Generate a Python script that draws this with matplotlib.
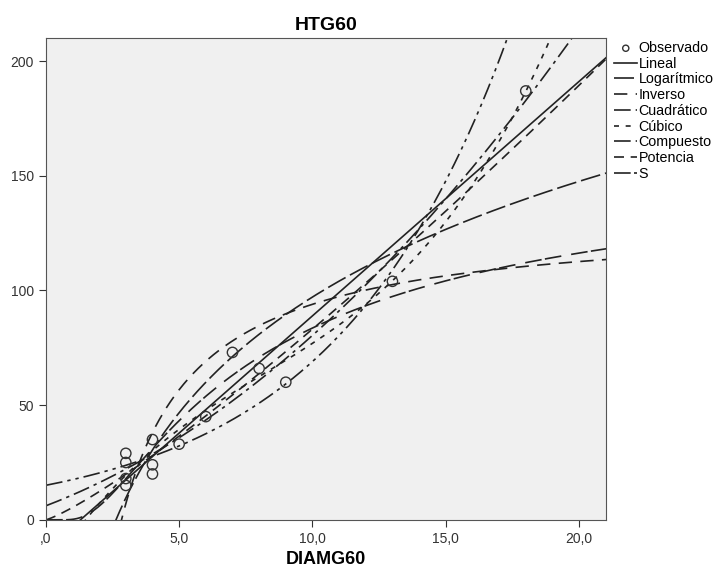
import numpy as np
import matplotlib.pyplot as plt

plt.rcParams['font.family'] = ['Liberation Sans', 'DejaVu Sans']

diam = np.array([3, 3, 3, 3, 4, 4, 4, 5, 6, 7, 8, 9, 13, 18], dtype=float)
htg = np.array([29, 25, 18, 15, 35, 24, 20, 33, 45, 73, 66, 60, 104, 187], dtype=float)

model_names = ['Lineal', 'Logarítmico', 'Inverso', 'Cuadrático', 'Cúbico',
               'Compuesto', 'Potencia', 'S']
x_ticks = [0, 5, 10, 15, 20]
x_tick_labels = [',0', '5,0', '10,0', '15,0', '20,0']
y_ticks = [0, 50, 100, 150, 200]

# --- fitted models (same set as the SPSS curve estimation) ---
lin = np.polyfit(diam, htg, 1)
log_c = np.polyfit(np.log(diam), htg, 1)
inv_c = np.polyfit(1 / diam, htg, 1)
quad = np.polyfit(diam, htg, 2)
cub = np.polyfit(diam, htg, 3)
comp = np.polyfit(diam, np.log(htg), 1)
powr = np.polyfit(np.log(diam), np.log(htg), 1)
s_c = np.polyfit(1 / diam, np.log(htg), 1)

xs = np.linspace(0.01, 21.5, 600)
curves = {
    'Lineal': np.polyval(lin, xs),
    'Logarítmico': np.polyval(log_c, np.log(xs)),
    'Inverso': np.polyval(inv_c, 1 / xs),
    'Cuadrático': np.polyval(quad, xs),
    'Cúbico': np.polyval(cub, xs),
    'Compuesto': np.exp(np.polyval(comp, xs)),
    'Potencia': np.exp(np.polyval(powr, np.log(xs))),
    'S': np.exp(np.polyval(s_c, 1 / xs)),
}
styles = {
    'Lineal': '-',
    'Logarítmico': (0, (12, 3)),
    'Inverso': (0, (8, 5)),
    'Cuadrático': (0, (10, 3, 2, 3)),
    'Cúbico': (0, (3, 4)),
    'Compuesto': (0, (10, 3, 2, 3, 2, 3)),
    'Potencia': (0, (6, 4)),
    'S': (0, (10, 2, 10, 6)),
}

fig = plt.figure(figsize=(7.16, 5.7), dpi=100)
ax = fig.add_axes([0.064, 0.088, 0.782, 0.845])
ax.set_facecolor('#f0f0f0')

ax.scatter(diam, htg, s=55, facecolors='none', edgecolors='#333333',
           linewidths=1.0, label='Observado', zorder=3)
for name in model_names:
    ax.plot(xs, curves[name], color='#222222', lw=1.2, linestyle=styles[name],
            label=name)

ax.set_xlim(0, 21)
ax.set_ylim(0, 210)
ax.set_xticks(x_ticks)
ax.set_xticklabels(x_tick_labels)
ax.set_yticks(y_ticks)
ax.tick_params(direction='out', length=5, labelsize=10, colors='#333333')
for sp in ax.spines.values():
    sp.set_color('#555555')

ax.set_title('HTG60', fontsize=14, fontweight='bold', pad=6)
ax.set_xlabel('DIAMG60', fontsize=13, fontweight='bold', labelpad=4)

ax.legend(loc='upper left', bbox_to_anchor=(1.0, 1.012), frameon=False,
          fontsize=10.3, handlelength=1.6, handletextpad=0.1,
          labelspacing=0.12, borderaxespad=0.2, markerscale=0.6)

fig.savefig('out.png', dpi=100)
